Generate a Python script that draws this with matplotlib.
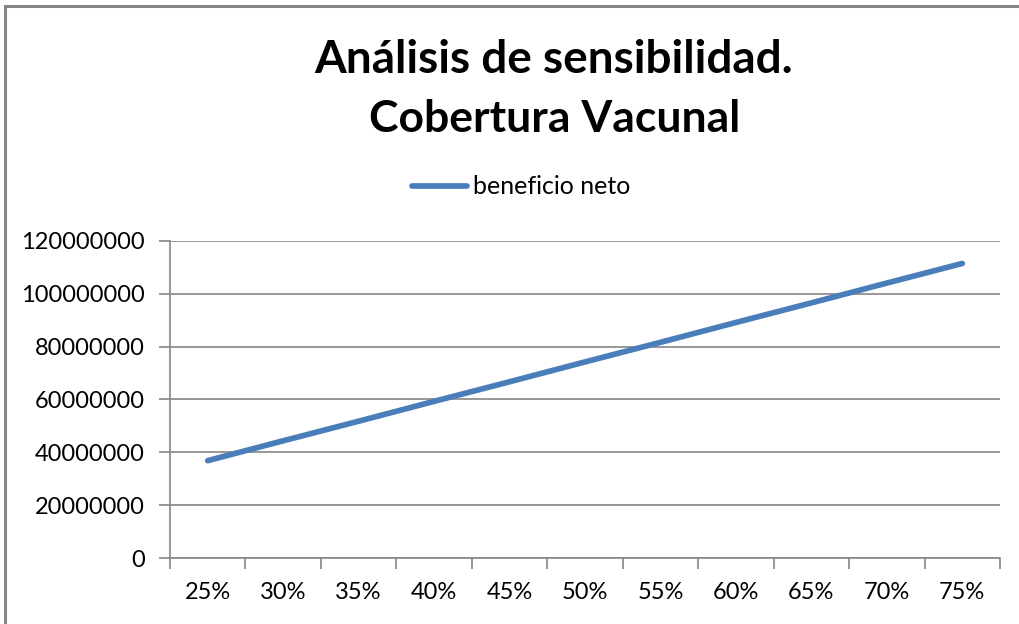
import matplotlib
matplotlib.use("Agg")
import matplotlib.pyplot as plt
from matplotlib.patches import Rectangle
from matplotlib.lines import Line2D

# Data
coverage = ["25%", "30%", "35%", "40%", "45%", "50%", "55%", "60%", "65%", "70%", "75%"]
net_benefit = [36900000, 44400000, 51800000, 59300000, 66700000, 74200000,
               81600000, 89100000, 96500000, 104000000, 111400000]
y_ticks = [0, 20000000, 40000000, 60000000, 80000000, 100000000, 120000000]

plt.rcParams['font.family'] = ['Lato', 'DejaVu Sans']

W, H, dpi = 1019, 624, 100
fig = plt.figure(figsize=(W / dpi, H / dpi), dpi=dpi)

grey = '#868686'
blue = '#4A7EBB'

# Chart area border (only top/left visible in the crop)
fig.patches.append(Rectangle((5 / W, -0.1), 1.2, (624 - 6) / H + 0.1,
                             transform=fig.transFigure, fill=False,
                             edgecolor=grey, linewidth=2.2))

ax = fig.add_axes([170 / W, (H - 558.3) / H, 830 / W, 317.6 / H])

x = list(range(len(coverage)))
ax.plot(x, net_benefit, color=blue, linewidth=4.1, solid_capstyle='round')

ax.set_xlim(-0.5, len(coverage) - 0.5)
ax.set_ylim(0, 120000000)

ax.set_yticks(y_ticks)
ax.set_yticklabels([str(v) for v in y_ticks])
ax.yaxis.grid(True, color=grey, linewidth=1.2)
ax.set_axisbelow(True)

ax.set_xticks(x)
ax.set_xticklabels(coverage)
ax.set_xticks([i - 0.5 for i in range(len(coverage) + 1)], minor=True)
ax.tick_params(axis='x', which='major', length=0, pad=17, labelsize=17)
ax.tick_params(axis='x', which='minor', length=8, width=1.2, color=grey)
ax.tick_params(axis='y', length=8, width=1.2, color=grey, pad=10, labelsize=17)

for side in ['top', 'right']:
    ax.spines[side].set_visible(False)
for side in ['left', 'bottom']:
    ax.spines[side].set_color(grey)
    ax.spines[side].set_linewidth(1.2)

fig.text(554 / W, 1 - 73 / H, "Análisis de sensibilidad.", ha='center', va='baseline',
         fontsize=33, fontweight='bold')
fig.text(555 / W, 1 - 132 / H, "Cobertura Vacunal", ha='center', va='baseline',
         fontsize=32, fontweight='bold')

legend_handle = Line2D([], [], color=blue, linewidth=4.1, solid_capstyle='round')
fig.legend([legend_handle], ["beneficio neto"], loc='center',
           bbox_to_anchor=(521 / W, 1 - 187 / H), frameon=False, fontsize=18,
           handlelength=2.2, handletextpad=0.25)

fig.savefig("out.png", dpi=dpi)
